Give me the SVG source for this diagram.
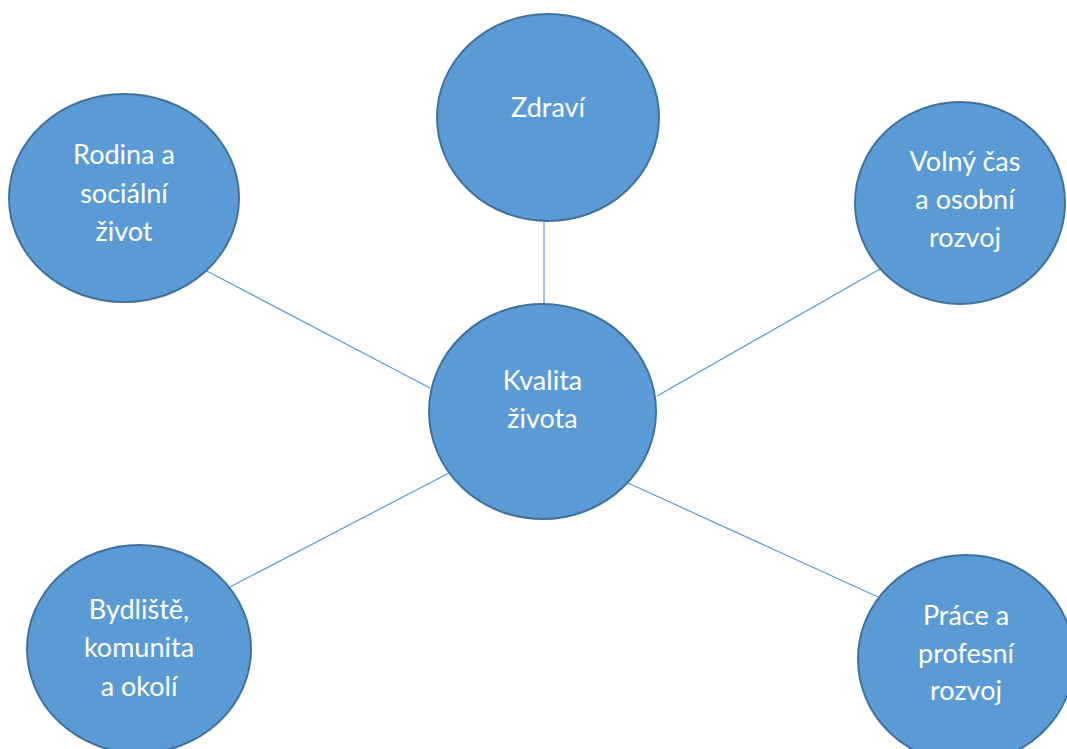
<svg xmlns="http://www.w3.org/2000/svg" width="1067" height="749" viewBox="0 0 1067 749">
<style>
.node{fill:#5B9BD5;stroke:#41719C;stroke-width:2}
.lbl{fill:#FFFFFF;font-family:Lato,"Open Sans",sans-serif;font-size:27px;text-anchor:middle}
.conn{stroke:#5B9BD5;stroke-width:1.2;fill:none}
</style>
<rect width="1067" height="749" fill="#FFFFFF"/>
<g id="connectors">
<line class="conn" x1="544" y1="221" x2="544" y2="304"/>
<line class="conn" x1="205" y1="270" x2="430" y2="388"/>
<line class="conn" x1="880" y1="269" x2="657" y2="396"/>
<line class="conn" x1="228" y1="588" x2="449" y2="473"/>
<line class="conn" x1="878" y1="597" x2="628" y2="483"/>
</g>
<g id="zdravi">
<ellipse class="node" cx="548" cy="117.5" rx="111" ry="103.5"/>
<text class="lbl" x="548" y="117">Zdraví</text>
</g>
<g id="rodina">
<ellipse class="node" cx="124" cy="198" rx="115" ry="104"/>
<text class="lbl" x="124" y="164">Rodina a</text>
<text class="lbl" x="124" y="203">sociální</text>
<text class="lbl" x="124" y="241">život</text>
</g>
<g id="volny">
<ellipse class="node" cx="960" cy="203" rx="105" ry="101"/>
<text class="lbl" x="965" y="171">Volný čas</text>
<text class="lbl" x="965" y="209">a osobní</text>
<text class="lbl" x="965" y="247">rozvoj</text>
</g>
<g id="bydliste">
<ellipse class="node" cx="139" cy="649" rx="112" ry="104"/>
<text class="lbl" x="139" y="619">Bydliště,</text>
<text class="lbl" x="139" y="657">komunita</text>
<text class="lbl" x="139" y="696">a okolí</text>
</g>
<g id="prace">
<ellipse class="node" cx="966" cy="659" rx="108" ry="104"/>
<text class="lbl" x="966" y="625">Práce a</text>
<text class="lbl" x="966" y="663">profesní</text>
<text class="lbl" x="966" y="700">rozvoj</text>
</g>
<g id="kvalita">
<ellipse class="node" cx="542.5" cy="411.5" rx="113.5" ry="107.5"/>
<text class="lbl" x="542.5" y="390">Kvalita</text>
<text class="lbl" x="542.5" y="428">života</text>
</g>
</svg>
